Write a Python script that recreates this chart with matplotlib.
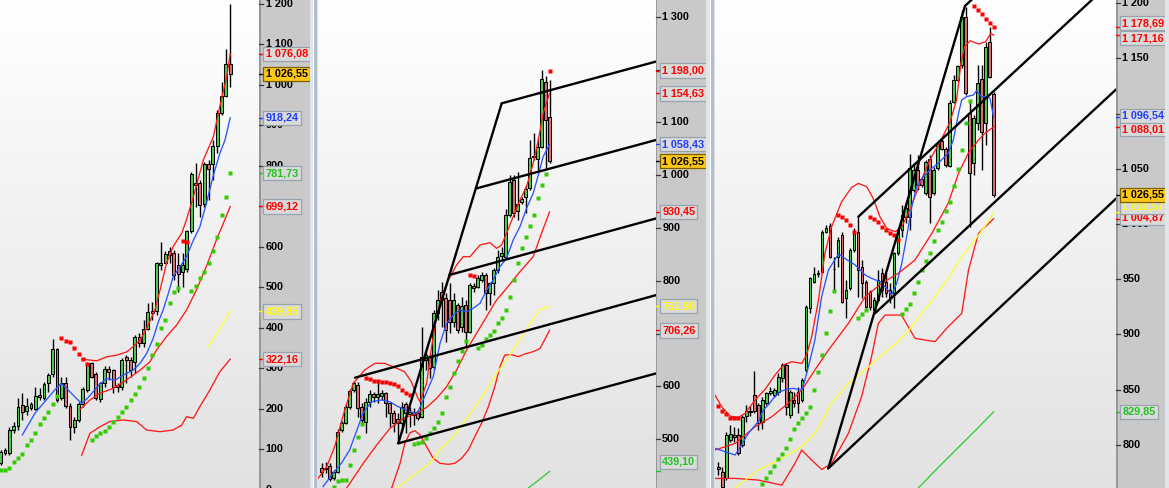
import numpy as np
import matplotlib
matplotlib.use("Agg")
import matplotlib.pyplot as plt
from matplotlib.patches import Rectangle
from matplotlib.colors import LinearSegmentedColormap

plt.rcParams['font.family'] = ['Liberation Sans', 'DejaVu Sans']

W, H = 1169, 488

# ------------------------------------------------------------ panel 1 (long term)
p1_open = [65, 98, 90, 147, 157, 209, 195, 211, 200, 234, 227, 262, 285, 346, 225, 262, 206, 154, 172, 211,
           246, 312, 285, 223, 264, 299, 295, 258, 254, 327, 320, 316, 376, 361, 396, 442, 442, 554, 560, 588,
           585, 554, 538, 544, 639, 752, 758, 705, 803, 803, 848, 929, 973, 1052]
p1_high = [98, 103, 155, 168, 225, 238, 225, 217, 254, 250, 266, 287, 373, 349, 279, 279, 213, 180, 217, 254,
           316, 316, 291, 266, 304, 304, 299, 262, 324, 332, 328, 382, 386, 419, 460, 464, 563, 612, 588, 600,
           592, 583, 583, 641, 785, 806, 764, 810, 814, 863, 937, 1007, 1087, 1199]
p1_low = [61, 86, 85, 139, 147, 172, 184, 196, 196, 221, 221, 240, 279, 217, 221, 201, 122, 139, 168, 205,
          242, 275, 221, 217, 254, 271, 238, 242, 246, 262, 279, 287, 353, 353, 394, 419, 431, 542, 559, 559,
          518, 489, 501, 538, 633, 699, 674, 699, 715, 764, 830, 925, 970, 995]
p1_close = [94, 90, 147, 157, 205, 192, 206, 201, 230, 228, 261, 283, 346, 221, 262, 206, 154, 173, 211, 248,
            312, 279, 225, 262, 297, 291, 254, 253, 320, 320, 295, 376, 361, 396, 439, 437, 560, 560, 582, 579,
            530, 532, 554, 639, 779, 758, 703, 803, 791, 848, 929, 973, 1052, 1026.55]

p1_ma_x = [5, 8, 10, 12, 13, 14, 15.2, 17.5, 18.7, 20, 23, 24.5, 26.4, 28.3, 30.6, 32.2, 33.7, 35.2, 36.4, 37.5,
           38.7, 39.8, 41.4, 42.9, 44.5, 46, 47.5, 49, 50.6, 51.8, 53]
p1_ma_y = [135, 190, 215, 240, 252, 262, 250, 225, 213, 225, 262, 274, 270, 283, 295, 312, 336, 373, 414, 443,
           484, 525, 550, 575, 616, 649, 707, 772, 830, 863, 918.24]
p1_bbu_x = [18.7, 22.2, 24.5, 26.8, 29.1, 30.6, 32.2, 33.7, 35.6, 36.8, 38.3, 39.8, 41.8, 42.9, 44.5, 46.8, 49.1,
            50.6, 52.2, 53]
p1_bbu_y = [322, 318, 328, 332, 340, 353, 369, 398, 443, 493, 559, 600, 633, 666, 723, 814, 871, 946, 1020,
            1076.08]
p1_bbm_x = [18.3, 20.6, 22.9, 26, 29.1, 32.2, 34.5, 36, 38.3, 40.6, 42.9, 45.2, 47.5, 49.8, 51.4, 53]
p1_bbm_y = [198, 221, 238, 250, 271, 295, 316, 345, 378, 406, 443, 493, 551, 616, 657, 699.12]
p1_bbl_x = [18.7, 20.6, 22.9, 25.2, 28.3, 31.4, 33.7, 36.8, 39.8, 41.8, 42.9, 44.5, 46, 48.3, 50.6, 53]
p1_bbl_y = [85, 139, 155, 168, 172, 168, 147, 143, 147, 159, 180, 176, 205, 246, 291, 322.16]
p1_yel_x = [47.9, 50.5, 53]
p1_yel_y = [353, 395, 439.85]
p1_sarg_x = list(range(0, 14)) + list(range(21, 42)) + list(range(44, 54))
p1_sarg_y = [48.4, 48.4, 52.5, 69, 77.2, 87.9, 110, 122.4, 140.6, 162, 176, 190.8, 210.6, 230,
             122.4, 132.3, 139, 144.6, 155, 167.7, 180, 190.8, 204.8, 221, 235, 254, 276, 301, 332, 359, 400,
             420, 460, 488.7, 497,
             490.4, 502.6, 521.6, 538, 560.3, 590, 622.9, 677.2, 723.3, 781.73]
p1_sarr_x = list(range(14, 21)) + [42, 43]
p1_sarr_y = [373.5, 367.7, 363.6, 348.8, 334.8, 321.6, 309.3, 614.6, 610.5]
p1_lab_val = [1076.08, 918.24, 781.73, 699.12, 439.85, 322.16, 1026.55]
p1_lab_pos = [1076.08, 918.24, 781.73, 699.12, 439.85, 322.16, 1026.55]
p1_lab_kind = ['red', 'blue', 'green', 'red', 'yellow', 'red', 'gold']

# ------------------------------------------------------------ panel 2 (weekly)
p2_open = [445.0, 445.0, 449.5, 426.1, 438.7, 517.6, 531.5, 560.5, 593.3, 602.8, 561.8, 533.4, 571.2, 585.1,
           579.4, 582.0, 587.0, 568.1, 550.4, 538.4, 530.2, 566.8, 547.9, 551.0, 549.2, 542.8, 650.1, 656.4,
           637.5, 738.5, 763.7, 766.9, 763.7, 722.6, 754.2, 713.2, 754.2, 703.8, 790.2, 789.0, 801.6, 811.0,
           776.3, 795.3, 820.5, 847.0, 845.7, 924.6, 990.9, 932.8, 948.6, 958.0, 975.1, 1036.3, 1030.0, 1052.7,
           1177.0, 1109.5]
p2_high = [454.5, 457.7, 454.5, 441.9, 518.9, 534.6, 566.8, 594.6, 611.0, 609.1, 568.1, 577.5, 593.3, 590.2,
           612.3, 593.3, 590.2, 571.2, 555.5, 549.2, 571.2, 571.2, 561.8, 558.6, 555.5, 713.2, 665.9, 662.7,
           744.8, 782.6, 798.4, 776.3, 795.3, 776.3, 757.4, 770.0, 763.7, 795.3, 795.3, 811.0, 817.4, 814.2,
           798.4, 823.7, 858.4, 864.7, 935.3, 1000.3, 1000.3, 1006.6, 959.3, 981.4, 1066.6, 1079.2, 1072.9,
           1199.1, 1187.7, 1180.2]
p2_low = [429.3, 435.6, 421.7, 423.0, 435.6, 514.5, 529.0, 556.7, 590.2, 542.8, 527.1, 511.3, 561.8, 571.2,
          568.1, 574.4, 542.8, 524.0, 514.5, 492.4, 514.5, 511.3, 524.0, 527.1, 536.5, 539.7, 631.2, 615.4,
          631.2, 725.8, 713.2, 684.8, 700.6, 713.2, 700.6, 703.8, 675.4, 700.6, 779.5, 785.8, 798.4, 744.8,
          754.2, 773.2, 814.2, 839.4, 842.6, 921.4, 921.4, 915.1, 945.4, 927.8, 971.9, 1028.7, 1009.8, 1050.8,
          1012.9, 1022.4]
p2_close = [438.7, 443.8, 424.2, 438.7, 514.5, 530.2, 560.5, 592.1, 607.2, 558.6, 536.6, 571.2, 585.7, 579.4,
            585.7, 588.3, 568.1, 549.2, 530.2, 531.5, 561.8, 549.2, 552.3, 546.0, 539.7, 656.4, 659.6, 634.4,
            738.5, 763.7, 779.5, 706.9, 722.6, 763.7, 706.9, 752.3, 703.8, 792.1, 785.8, 804.7, 811.0, 776.3,
            795.3, 820.5, 845.7, 852.0, 924.6, 987.7, 927.8, 945.4, 954.9, 973.2, 1031.9, 1035.0, 1054.0, 1182.0,
            1104.4, 1026.55]

p2_ma_x = [0.33, 2.83, 4.9, 7, 8.67, 10.33, 12.4, 14.9, 17, 19.1, 21.2, 23.25, 24.1, 25.75, 27.9, 29.6, 31.25,
           32.9, 34.6, 36.25, 37.9, 39.6, 41.25, 42.9, 44.6, 46.25, 47.9, 49.6, 51.25, 52.9, 54.2, 55.4, 57]
p2_ma_y = [410.3, 435.6, 454.5, 479.8, 514.5, 549.2, 571.2, 574.4, 571.2, 561.8, 555.5, 549.2, 552.3, 580.7,
           618.5, 681.7, 719.5, 735.3, 744.8, 741.6, 748, 757.4, 782.6, 801.6, 826.8, 842.6, 877.3, 902.5, 937.2,
           965.6, 1000.3, 1035, 1058.43]
p2_bbu_x = [-0.9, 1.25, 3.25, 5.75, 7.9, 10.75, 13.3, 15.75, 18.75, 20.75, 22.4, 24.1, 24.6, 26.25, 27.5, 28.75,
            30, 31.7, 33.75, 35.4, 37.1, 39.6, 42.1, 43.75, 45, 46.25, 47.9, 49.6, 51.25, 52.9, 54.2, 55.4, 57]
p2_bbu_y = [426.1, 448.2, 486, 555.5, 606, 631.2, 643.8, 643.8, 634.4, 628, 609.1, 577.5, 571, 606, 675.4,
            732.2, 770, 801.6, 830, 845.7, 845.7, 867.8, 872.2, 861.5, 867.8, 889.9, 921.5, 953, 978.2, 1022.4,
            1066.6, 1117.1, 1154.63]
p2_bbm_x = [6.25, 10.4, 13.75, 17.1, 20.4, 23.75, 26.25, 28.75, 31.25, 33.75, 36.25, 38.75, 41.25, 43.75,
            46.25, 49.6, 52.9, 55, 57]
p2_bbm_y = [407.8, 454.5, 489.2, 520.8, 539.7, 549.2, 560.5, 577.5, 599.6, 631.2, 669, 700.6, 732.2, 763.7,
            785.8, 817.3, 845.7, 889.9, 930.45]
p2_bbl_x = [17.5, 19.6, 20.8, 22.1, 23.3, 24.6, 26.25, 27.9, 29.6, 31.7, 33.3, 35, 36.7, 38.3, 40, 41.7, 43.3,
            44.6, 45.8, 47.5, 49.2, 50.8, 52.9, 54.6, 56.1, 57]
p2_bbl_y = [407.8, 454.5, 492.4, 512.5, 516.3, 508.2, 486, 464, 454.5, 452.6, 454.5, 464, 479.8, 505, 530.2,
            561.8, 599.6, 637.5, 659.6, 660.2, 656.4, 661.5, 665.9, 671.6, 693, 706.26]
p2_yel_x = [18.75, 23.75, 27.1, 29.6, 32.9, 35.4, 37.9, 41.25, 43.75, 46.25, 49.6, 52.1, 54.6, 57]
p2_yel_y = [407.8, 435.6, 454.5, 479.8, 505, 530.2, 555.5, 593.3, 624.9, 650.1, 688, 719.5, 744.8, 751.9]
p2_grn_x = [51.7, 54.5, 57]
p2_grn_y = [407.8, 424, 439.1]
p2_sarg_x = list(range(3, 11)) + list(range(23, 37)) + list(range(39, 57))
p2_sarg_y = [409.1, 421.7, 423, 423, 450.7, 479.8, 505, 529,
             491.1, 492.4, 494.3, 501.8, 511.3, 520.8, 533.4, 550.4, 579.4, 599.6, 624.9, 648.2, 667.2, 686.1,
             672.2, 678.5, 689.2, 696.8, 705.6, 719.5, 730.3, 744.8, 770, 801.6, 833.1, 861.5, 883.6, 904.4,
             924.6, 956.2, 981.4, 1002.2]
p2_sarr_x = list(range(11, 23)) + [37, 38, 57]
p2_sarr_y = [615.4, 613.5, 611, 610.4, 609.1, 607.8, 605.9, 604, 600.9, 593.3, 587, 583.2, 811, 809.1, 1198.0]
# pitchfork / channel lines: (x0, y0, x1, y1)
p2_lines = [(19.16, 492.4, 45.03, 1136.0),
            (45.03, 1136.0, 83.6, 1215.0),
            (38.78, 975.1, 83.6, 1066.5),
            (31.92, 811.0, 83.6, 918.0),
            (8.33, 616.6, 83.6, 772.8),
            (19.16, 492.4, 83.6, 624.6)]
p2_lab_val = [1198.00, 1154.63, 1058.43, 930.45, 751.90, 706.26, 439.10, 1026.55]
p2_lab_pos = [1198.00, 1154.63, 1058.43, 930.45, 751.90, 706.26, 457.5, 1026.55]
p2_lab_kind = ['red', 'red', 'blue', 'red', 'yellow', 'red', 'green', 'gold']

# ------------------------------------------------------------ panel 3 (daily)
p3_open = [780.1, 775.6, 769.5, 804.3, 808.8, 808.8, 799.7, 826.0, 830.0, 845.0, 836.0, 820.9, 837.5, 847.2,
           845.0, 848.0, 860.2, 872.2, 826.9, 840.5, 848.1, 840.5, 867.7, 923.6, 947.8, 955.3, 956.8, 993.1,
           998.2, 958.9, 970.4, 990.0, 932.7, 941.7, 976.5, 993.1, 961.4, 947.8, 938.7, 922.1, 931.2, 955.3,
           947.8, 940.2, 937.2, 973.4, 994.6, 1006.7, 1006.6, 1030.8, 1048.9, 1040.8, 1027.8, 1058.6, 1027.8,
           1050.4, 1075.5, 1067.7, 1052.6, 1110.9, 1130.5, 1144.1, 1187.9, 1100.3, 1055.6, 1091.8, 1131.4,
           1091.2, 1164.6, 1117.5]
p3_high = [784.6, 780.1, 811.8, 817.9, 815.7, 814.8, 826.9, 836.0, 835.0, 867.1, 838.1, 843.5, 848.1, 852.6,
           851.0, 865.3, 873.8, 873.8, 849.6, 848.1, 852.6, 860.2, 926.6, 952.3, 961.4, 958.4, 994.6, 999.1,
           1000.6, 970.4, 988.0, 993.1, 949.3, 978.0, 996.1, 1006.7, 967.4, 949.3, 940.2, 934.2, 958.4, 959.9,
           955.3, 946.3, 975.0, 996.1, 1017.3, 1018.8, 1063.4, 1055.0, 1062.5, 1042.9, 1058.0, 1062.5, 1052.0,
           1074.6, 1077.6, 1070.1, 1112.4, 1135.0, 1144.1, 1193.9, 1197.0, 1112.4, 1098.8, 1144.1, 1144.1,
           1165.2, 1178.8, 1119.9]
p3_low = [772.6, 760.8, 768.0, 802.8, 802.8, 790.7, 798.2, 820.9, 826.0, 828.4, 813.3, 813.9, 836.0, 845.0,
          843.0, 845.0, 857.1, 827.0, 823.9, 834.5, 828.4, 839.0, 866.2, 919.0, 946.3, 952.3, 955.3, 991.6,
          968.9, 940.2, 961.4, 928.1, 914.5, 940.2, 975.0, 934.2, 932.7, 923.6, 922.1, 919.1, 929.6, 934.2,
          934.2, 928.1, 923.6, 971.9, 988.6, 1000.6, 994.6, 1029.3, 1030.8, 1033.8, 1026.3, 1000.6, 1026.3,
          1048.9, 1067.1, 1052.0, 1052.0, 1109.3, 1129.0, 1141.1, 1116.9, 997.6, 1044.4, 1085.2, 1048.9,
          1071.6, 1132.0, 1024.2]
p3_close = [777.7, 762.0, 808.8, 809.4, 807.3, 792.2, 825.4, 830.9, 830.5, 830.9, 819.4, 840.5, 846.6, 849.0,
            849.6, 861.7, 872.2, 834.5, 848.1, 838.1, 837.5, 858.7, 925.1, 950.8, 954.7, 954.4, 993.1, 996.7,
            970.4, 959.5, 985.5, 929.6, 940.2, 976.5, 993.1, 958.4, 946.3, 925.1, 925.1, 931.2, 949.3, 940.2,
            937.2, 934.2, 973.4, 994.6, 1008.2, 1014.2, 1050.4, 1048.9, 1035.3, 1035.3, 1056.5, 1024.8, 1048.9,
            1073.1, 1067.7, 1053.5, 1110.0, 1130.5, 1143.2, 1187.9, 1118.4, 1045.9, 1095.8, 1127.5, 1083.7,
            1160.7, 1133.5, 1026.55]

p3_ma_x = [-0.8, 1.7, 4.2, 5.8, 7.5, 10, 11.3, 12.5, 13.8, 15.5, 17.1, 18.8, 20.9, 21.7, 23, 24.2, 25.9, 27.6,
           30.1, 31.7, 34.3, 36.8, 38.4, 40.5, 42.2, 43.4, 44.7, 45.9, 47.2, 48.5, 49.7, 51.4, 53.5, 55.1, 57.6,
           58.9, 60.2, 61, 62.2, 63.9, 64.7, 66, 67.3, 68.1, 69]
p3_ma_y = [796.7, 793.7, 790.7, 799.7, 810.3, 820.9, 831.5, 836, 842, 848.1, 850.2, 851.1, 849.6, 858.7, 876.8,
           894.9, 934.2, 958.4, 972.8, 968.9, 962.9, 953.8, 950.8, 947.8, 941.7, 935.7, 946.3, 962.9, 988.6,
           1015.7, 1033.9, 1042.9, 1050.5, 1055, 1064.1, 1076.1, 1100.3, 1112.4, 1115.4, 1116.9, 1120.8, 1115.4,
           1115.4, 1113.9, 1096.54]
p3_bbu_x = [-0.84, 0.84, 2.9, 5.0, 6.7, 9.2, 11.7, 14.2, 16.3, 18.4, 20.9, 22.1, 23.4, 25.1, 26.7, 28.4, 30.9,
            33.4, 35.1, 37.2, 38.8, 40.5, 42.2, 44.3, 45.9, 48, 50.5, 53, 55.6, 58.1, 59.7, 60.8, 61.7, 63.1,
            65.2, 67, 68.3, 69]
p3_bbu_y = [845, 834.4, 826, 824.8, 828.4, 840.5, 850.1, 863.1, 872.2, 875.2, 873.7, 881.3, 897.9, 931.1,
            973.4, 997.6, 1020.2, 1033.2, 1036.8, 1033.8, 1023.3, 1006.6, 996.1, 993, 997, 1012.7, 1036.8, 1058,
            1074.6, 1092.7, 1112.4, 1145.6, 1160.7, 1166.1, 1163.1, 1165.2, 1172.8, 1171.16]
p3_bbm_x = [-0.84, 4.2, 9.2, 13.4, 17.5, 20.9, 24.2, 27.6, 32.6, 36.8, 40.9, 45.1, 49.3, 53.5, 57.6, 60.2,
            62.7, 65.2, 66.8, 69]
p3_bbm_y = [795.2, 801.2, 816.3, 825.4, 837.5, 849.5, 867.7, 885.8, 910, 934.1, 946.2, 955.3, 967.4, 991.5,
            1018.7, 1045.9, 1064.6, 1076.1, 1082.2, 1088.01]
p3_bbl_x = [-0.84, 4.2, 10, 15.9, 19.2, 20.9, 23.4, 25.9, 28.4, 32.6, 35.9, 38.4, 40.1, 41.8, 45.9, 49.3, 54.3,
            57.6, 61, 62.7, 65.2, 69]
p3_bbl_y = [769.5, 769.5, 768, 763.4, 783.1, 795.2, 786.1, 777.6, 783.1, 810.3, 843.5, 879.8, 910, 917.5,
            917.5, 896.4, 893.4, 907, 919, 958.3, 991.5, 1004.87]
p3_yel_x = [4.2, 10, 15.9, 20.9, 24.2, 28.4, 32.6, 36.8, 40.9, 45.1, 48.5, 51, 54.3, 57.6, 61, 64.3, 66.8, 69]
p3_yel_y = [760.7, 777, 787.6, 798.2, 810.3, 837.5, 855.6, 867.7, 881.3, 893.4, 907, 919, 934.1, 950.7, 970.4,
            985.5, 997.6, 1010.57]
p3_grn_x = [50.1, 55, 60, 65, 69]
p3_grn_y = [760.7, 779, 797, 815, 829.85]
p3_sarg_x = list(range(11, 30)) + [35, 36, 37] + list(range(46, 64))
p3_sarg_y = [764.1, 770.1, 775.6, 781.0, 786.8, 791.3, 797.3, 805.2, 813.9, 819.4, 823.9, 829.0, 834.5, 849.6,
             866.2, 881.3, 901.6, 921.5, 939.3,
             914.6, 918.2, 922.1,
             918.5, 922.7, 927.2, 937.8, 947.8, 958.3, 966.5, 974.1, 984.6, 994.6, 1001.5, 1012.1, 1020.3,
             1034.5, 1049.9, 1067.1, 1091.2, 1111.8]
p3_sarr_x = [0, 1, 2, 3, 4, 5, 30, 31, 32, 33, 34, 38, 39, 40, 41, 42, 43, 44, 45, 64, 65, 66, 67, 68, 69]
p3_sarr_y = [835.1, 830.9, 827.8, 823.9, 823.9, 823.9, 1008.2, 1006.7, 1003.7, 999.0, 993.1, 1006.7, 1004.6,
             1002.2, 997.6, 994.6, 992.2, 990.1, 985.5, 1197.6, 1193.9, 1190.3, 1185.8, 1181.9, 1178.69]
p3_lines = [(27.56, 778.6, 61.82, 1197.6),
            (61.82, 1197.6, 64.3, 1206.0),
            (35.08, 1006.6, 99.7, 1223.5),
            (39.27, 919.1, 99.7, 1122.0),
            (27.56, 778.6, 99.7, 1023.1)]
p3_lab_val = [1178.69, 1171.16, 1096.54, 1088.01, 1010.57, 1004.87, 829.85, 1026.55]
p3_lab_pos = [1181.9, 1168.3, 1098.0, 1086.1, 1015.6, 1005.8, 829.85, 1026.55]
p3_lab_kind = ['red', 'red', 'blue', 'red', 'yellow', 'red', 'green', 'gold']

# ------------------------------------------------------------ styling
BODY_UP = '#4fcc4f'
BODY_DN = '#de6f6f'
C_RED = '#ff1a1a'
C_BLUE = '#2a55ff'
C_YEL = '#ffff33'
C_GRN = '#33cc33'
SAR_G = '#33cc00'
SAR_R = '#ff0000'
STRIP = '#c9c9c9'
FS = 7.8
LAB_TXT = {'red': '#ff0000', 'blue': '#1f3fff', 'green': '#22c222', 'yellow': '#ffff00', 'gold': '#000000'}

bg_cmap = LinearSegmentedColormap.from_list('bg', ['#e2e2e2', '#ffffff'])
bg = np.linspace(1, 0, 256).reshape(-1, 1)


def fmt_int(v):
    return f"{int(v):,}".replace(",", " ")


def fmt_val(v):
    return f"{v:,.2f}".replace(",", " ").replace(".", ",")


fig = plt.figure(figsize=(W / 100, H / 100), dpi=100)


def price_axes(x0, x1):
    ax = fig.add_axes([x0 / W, 0, (x1 - x0) / W, 1])
    ax.axis('off')
    ax.imshow(bg, cmap=bg_cmap, vmin=0, vmax=1, extent=(0, 1, 0, 1), transform=ax.transAxes,
              aspect='auto', zorder=0, interpolation='bilinear')
    return ax


def candles(ax, o, h, l, c):
    o, h, l, c = (np.asarray(a, float) for a in (o, h, l, c))
    x = np.arange(len(o))
    ax.vlines(x, l, h, colors='black', linewidth=1.0, zorder=4)
    bottom = np.minimum(o, c)
    height = np.abs(c - o)
    cols = [BODY_UP if cc >= oo else BODY_DN for oo, cc in zip(o, c)]
    ax.bar(x, height, width=0.68, bottom=bottom, color=cols, edgecolor='black', linewidth=0.75, zorder=5)


def line(ax, xs, ys, color, lw=0.95):
    ax.plot(xs, ys, color=color, lw=lw, zorder=6, solid_joinstyle='round')


def sar(ax, gx, gy, rx, ry):
    ax.plot(gx, gy, 's', ms=2.3, color=SAR_G, mec='none', zorder=7)
    ax.plot(rx, ry, 's', ms=2.3, color=SAR_R, mec='none', zorder=7)


def trend(ax, segs):
    for x0, y0, x1, y1 in segs:
        ax.plot([x0, x1], [y0, y1], color='black', lw=1.7, zorder=8, solid_capstyle='round')


def strip(s0, s1, ylim, ticks, lab_val, lab_pos, lab_kind):
    sax = fig.add_axes([s0 / W, 0, (s1 - s0) / W, 1])
    sax.set_xlim(0, s1 - s0)
    sax.set_ylim(*ylim)
    sax.set_facecolor(STRIP)
    for sp in sax.spines.values():
        sp.set_visible(False)
    sax.set_xticks([])
    sax.set_yticks([])
    sax.axvline(0.6, color='#8f8f8f', lw=1.2, zorder=1)
    for t in ticks:
        sax.plot([0, 4], [t, t], color='#3a3a3a', lw=0.9, zorder=2, clip_on=False)
        sax.text(6.5, t, fmt_int(t), ha='left', va='center', fontsize=FS, fontweight='bold',
                 color='black', zorder=2, clip_on=False)
    plain = sorted([i for i, k in enumerate(lab_kind) if k != 'gold'], key=lambda i: lab_pos[i])
    order = plain + [i for i, k in enumerate(lab_kind) if k == 'gold']
    for n, i in enumerate(order):
        v, p, k = lab_val[i], lab_pos[i], lab_kind[i]
        if k == 'gold':
            fc, ec, dash = '#fdc814', '#7a6000', '#000000'
        else:
            fc, ec, dash = '#dadada', '#98a3ad', LAB_TXT[k]
        sax.plot([0, 4], [v, v], color=dash, lw=1.0, zorder=3 + n * 0.01)
        sax.text(6.5, p, fmt_val(v), ha='left', va='center', fontsize=FS, fontweight='bold',
                 color=LAB_TXT[k], zorder=4 + n * 0.01,
                 bbox=dict(boxstyle='square,pad=0.2', fc=fc, ec=ec, lw=0.9))
    return sax


# ------------------------------------------------------------ panel 1
ax1 = price_axes(0, 259)
candles(ax1, p1_open, p1_high, p1_low, p1_close)
line(ax1, p1_bbu_x, p1_bbu_y, C_RED)
line(ax1, p1_bbm_x, p1_bbm_y, C_RED)
line(ax1, p1_bbl_x, p1_bbl_y, C_RED)
line(ax1, p1_yel_x, p1_yel_y, C_YEL)
line(ax1, p1_ma_x, p1_ma_y, C_BLUE)
sar(ax1, p1_sarg_x, p1_sarg_y, p1_sarr_x, p1_sarr_y)
ax1.set_xlim(-0.16, 59.65)
ax1.set_ylim(3.95, 1208.9)
strip(259, 310, (3.95, 1208.9), range(0, 1201, 100), p1_lab_val, p1_lab_pos, p1_lab_kind)

# ------------------------------------------------------------ panel 2
ax2 = price_axes(318, 655.7)
candles(ax2, p2_open, p2_high, p2_low, p2_close)
line(ax2, p2_bbu_x, p2_bbu_y, C_RED)
line(ax2, p2_bbm_x, p2_bbm_y, C_RED)
line(ax2, p2_bbl_x, p2_bbl_y, C_RED)
line(ax2, p2_yel_x, p2_yel_y, C_YEL)
line(ax2, p2_grn_x, p2_grn_y, C_GRN)
line(ax2, p2_ma_x, p2_ma_y, C_BLUE)
sar(ax2, p2_sarg_x, p2_sarg_y, p2_sarr_x, p2_sarr_y)
trend(ax2, p2_lines)
ax2.set_xlim(-0.926, 83.56)
ax2.set_ylim(407.8, 1331.6)
strip(655.7, 706.5, (407.8, 1331.6), range(500, 1301, 100), p2_lab_val, p2_lab_pos, p2_lab_kind)

# ------------------------------------------------------------ panel 3
ax3 = price_axes(715, 1116)
candles(ax3, p3_open, p3_high, p3_low, p3_close)
line(ax3, p3_bbu_x, p3_bbu_y, C_RED)
line(ax3, p3_bbm_x, p3_bbm_y, C_RED)
line(ax3, p3_bbl_x, p3_bbl_y, C_RED)
line(ax3, p3_yel_x, p3_yel_y, C_YEL)
line(ax3, p3_grn_x, p3_grn_y, C_GRN)
line(ax3, p3_ma_x, p3_ma_y, C_BLUE)
sar(ax3, p3_sarg_x, p3_sarg_y, p3_sarr_x, p3_sarr_y)
trend(ax3, p3_lines)
ax3.set_xlim(-0.835, 99.67)
ax3.set_ylim(760.8, 1203.0)
strip(1116, 1165, (760.8, 1203.0), range(800, 1201, 50), p3_lab_val, p3_lab_pos, p3_lab_kind)

# ------------------------------------------------------------ separators
for a, b, col in [(310, 313.5, '#dfe5eb'), (313.5, 316.5, '#b3bfca'), (316.5, 318, '#d8dfe6'),
                  (706.5, 710.5, '#dfe5eb'), (710.5, 713.5, '#b3bfca'), (713.5, 715, '#d8dfe6'),
                  (1165, 1169, '#dfe5eb')]:
    fig.add_artist(Rectangle((a / W, 0), (b - a) / W, 1, transform=fig.transFigure,
                             fc=col, ec='none', zorder=10))

fig.savefig('out.png', dpi=100)
